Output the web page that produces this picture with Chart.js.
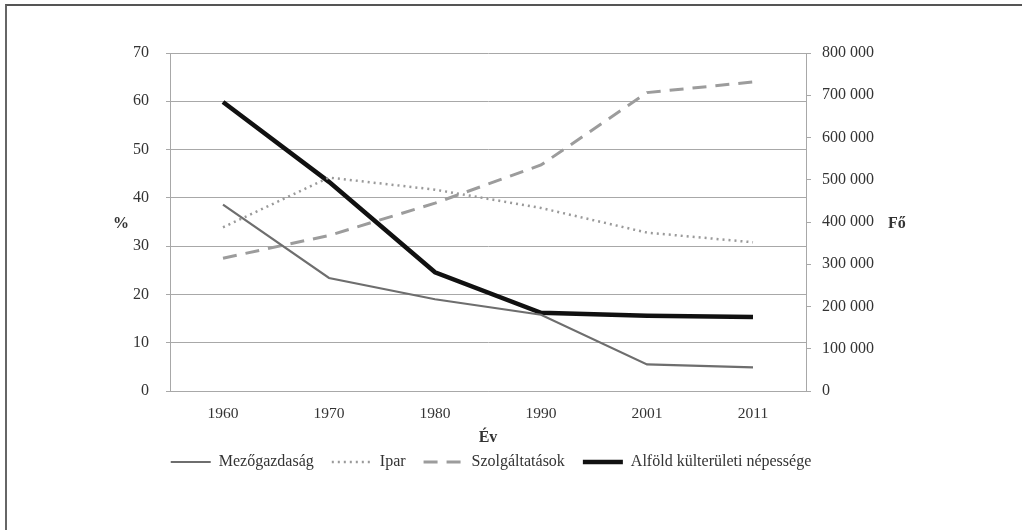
<!DOCTYPE html>
<html>
<head>
<meta charset="utf-8">
<script src="https://cdn.jsdelivr.net/npm/chart.js@4"></script>
<style>
  html, body { margin: 0; padding: 0; background: #fff; }
  #wrap { position: relative; width: 1022px; height: 530px; overflow: hidden; }
  #frame { position: absolute; left: 5px; top: 4px; width: 1100px; height: 600px;
           border-top: 2px solid #555; border-left: 2px solid #666; }
  #chart { position: absolute; left: 0; top: 0; }
</style>
</head>
<body>
<div id="wrap">
  <div id="frame"></div>
  <canvas id="chart" width="1022" height="530"></canvas>
</div>
<script>
// adatok
const years = ["1960", "1970", "1980", "1990", "2001", "2011"];
const mezogazdasag = [38.6, 23.4, 19.0, 15.8, 5.5, 4.9];
const ipar = [33.9, 44.2, 41.7, 37.9, 32.8, 30.8];
const szolgaltatasok = [27.5, 32.2, 38.9, 46.8, 61.8, 64.0];
const alfoldNepesseg = [684000, 495000, 281000, 185000, 178000, 175000];

const pctTicks = { min: 0, max: 70, step: 10 };
const foTicks = { min: 0, max: 800000, step: 100000 };

const font = "'Liberation Serif', 'DejaVu Serif', serif";
const textColor = "#333";
const gridColor = "#a8a8a8";

// szám formázása szóközzel (800 000)
function spaced(v) {
  return v.toString().replace(/\B(?=(\d{3})+(?!\d))/g, " ");
}

// álló tengelycímek (%, Fő, Év) kirajzolása
const axisTitles = {
  id: "axisTitles",
  afterDraw(chart) {
    const ctx = chart.ctx;
    const area = chart.chartArea;
    ctx.save();
    ctx.fillStyle = textColor;
    ctx.font = "bold 16px " + font;
    ctx.textAlign = "center";
    ctx.textBaseline = "middle";
    ctx.fillText("%", 121, 224);
    ctx.fillText("Év", (area.left + area.right) / 2, 438);
    ctx.textAlign = "left";
    ctx.fillText("Fő", 888, 224);
    ctx.restore();
  },
};

const ctx = document.getElementById("chart").getContext("2d");
new Chart(ctx, {
  type: "line",
  data: {
    labels: years,
    datasets: [
      {
        label: "Mezőgazdaság",
        data: mezogazdasag,
        borderColor: "#6e6e6e",
        borderWidth: 2.2,
        yAxisID: "y",
      },
      {
        label: "Ipar",
        data: ipar,
        borderColor: "#9a9a9a",
        borderWidth: 2.5,
        borderDash: [2, 4],
        yAxisID: "y",
      },
      {
        label: "Szolgáltatások",
        data: szolgaltatasok,
        borderColor: "#9c9c9c",
        borderWidth: 3,
        borderDash: [14, 9],
        yAxisID: "y",
      },
      {
        label: "Alföld külterületi népessége",
        data: alfoldNepesseg,
        borderColor: "#111",
        borderWidth: 4.5,
        yAxisID: "y1",
      },
    ],
  },
  options: {
    responsive: false,
    animation: false,
    devicePixelRatio: 1,
    elements: {
      point: { radius: 0, hoverRadius: 0 },
      line: { tension: 0, borderCapStyle: "butt" },
    },
    layout: { padding: { left: 0, right: 40, top: 53, bottom: 50 } },
    scales: {
      x: {
        offset: true,
        grid: { display: false, drawTicks: false },
        border: { display: true, color: gridColor, width: 1 },
        ticks: { color: textColor, font: { family: font, size: 15.5 }, padding: 14 },
        afterFit(scale) {
          scale.height = 45;
        },
      },
      y: {
        position: "left",
        min: pctTicks.min,
        max: pctTicks.max,
        ticks: {
          stepSize: pctTicks.step,
          color: textColor,
          font: { family: font, size: 16 },
          padding: 17,
        },
        grid: { color: gridColor, lineWidth: 1, tickLength: 4 },
        border: { display: true, color: gridColor, width: 1 },
        afterFit(scale) {
          scale.width = 170;
        },
      },
      y1: {
        position: "right",
        min: foTicks.min,
        max: foTicks.max,
        ticks: {
          stepSize: foTicks.step,
          color: textColor,
          font: { family: font, size: 16 },
          padding: 11,
          callback: (v) => spaced(v),
        },
        grid: { drawOnChartArea: false, color: gridColor, tickLength: 5 },
        border: { display: true, color: gridColor, width: 1 },
        afterFit(scale) {
          scale.width = 176;
        },
      },
    },
    plugins: {
      legend: {
        position: "bottom",
        labels: {
          usePointStyle: true,
          pointStyle: "line",
          pointStyleWidth: 40,
          boxWidth: 40,
          boxHeight: 15,
          padding: 18,
          color: textColor,
          font: { family: font, size: 16 },
          // vonalstílus átvétele az adatsorokból
          generateLabels(chart) {
            const items = Chart.defaults.plugins.legend.labels.generateLabels(chart);
            items.forEach((it, i) => {
              const ds = chart.data.datasets[i];
              it.lineDash = ds.borderDash || [];
              it.lineWidth = ds.borderWidth;
              it.strokeStyle = ds.borderColor;
            });
            return items;
          },
        },
      },
      tooltip: { enabled: false },
    },
  },
  plugins: [axisTitles],
});
</script>
</body>
</html>
